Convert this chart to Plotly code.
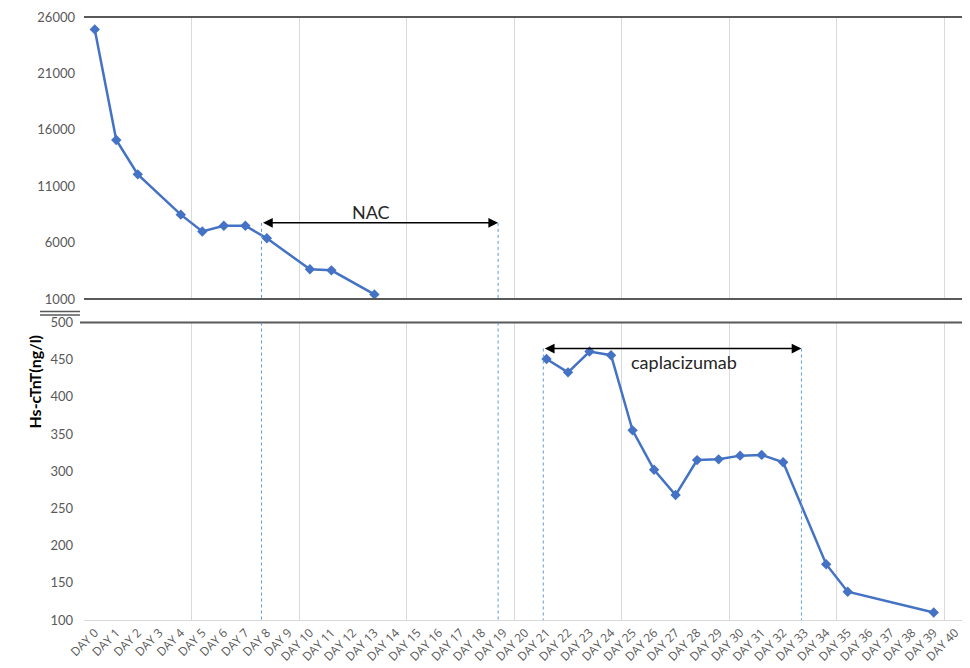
import plotly.graph_objects as go

# ---- data ----
top_days = [0, 1, 2, 4, 5, 6, 7, 8, 10, 11, 13]
top_values = [24900, 15100, 12050, 8480, 6990, 7490, 7490, 6380, 3640, 3540, 1410]

bottom_days = [21, 22, 23, 24, 25, 26, 27, 28, 29, 30, 31, 32, 34, 35, 39]
bottom_values = [451, 433, 461, 456, 355, 302, 268, 315, 316, 321, 322, 312, 175, 138, 110]

day_ticks = list(range(0, 41))
day_labels = [f"DAY {d}" for d in day_ticks]
top_yticks = [1000, 6000, 11000, 16000, 21000, 26000]
bottom_yticks = [100, 150, 200, 250, 300, 350, 400, 450, 500]

nac_start, nac_end, nac_level = 7.75, 18.75, 7750
cap_start, cap_end, cap_level = 20.85, 32.85, 465

# page body has an 8px margin, so the figure is drawn 8px smaller and coordinates offset
OFF = 8
W, H = 962, 660
def px(x):
    return (x - OFF) / W
def py(y):
    return 1 - (y - OFF) / H

BLUE = "#4472C4"
GRAY = "#595959"
LIGHT = "#D9D9D9"
FONT = "Lato"
TOP_Y = 17

fig = go.Figure()
fig.add_trace(go.Scatter(x=top_days, y=top_values, mode="lines+markers",
                         line=dict(color=BLUE, width=2.5),
                         marker=dict(symbol="diamond", size=8, color=BLUE),
                         xaxis="x", yaxis="y", showlegend=False, cliponaxis=False))
fig.add_trace(go.Scatter(x=bottom_days, y=bottom_values, mode="lines+markers",
                         line=dict(color=BLUE, width=2.5),
                         marker=dict(symbol="diamond", size=8, color=BLUE),
                         xaxis="x2", yaxis="y2", showlegend=False, cliponaxis=False))

xdom = [px(84), px(966)]
minor_grid = dict(tickvals=[d + 0.5 for d in range(4, 40, 5)], showgrid=True,
                  gridcolor=LIGHT, gridwidth=1, ticklen=0)

fig.update_layout(
    width=W, height=H, template="none",
    margin=dict(l=0, r=0, t=0, b=0),
    paper_bgcolor="white", plot_bgcolor="rgba(0,0,0,0)",
    font=dict(family=FONT, color=GRAY),
    xaxis=dict(domain=xdom, range=[-0.5, 40.5], anchor="y",
               tickmode="array", tickvals=day_ticks, showticklabels=False,
               showgrid=False, zeroline=False, showline=False, ticks="",
               minor=minor_grid, automargin=False),
    yaxis=dict(domain=[py(299), py(TOP_Y)], range=[1000, 26000], anchor="x",
               tickmode="array", tickvals=top_yticks,
               ticktext=[str(v) for v in top_yticks], showgrid=False,
               zeroline=False, showline=False, ticks="",
               tickfont=dict(size=13, color=GRAY, family=FONT),
               ticklabeloverflow="allow",
               ticklabelstandoff=8, automargin=False),
    xaxis2=dict(domain=xdom, range=[-0.5, 40.5], anchor="y2",
                tickmode="array", tickvals=day_ticks, ticktext=day_labels,
                tickangle=-45, tickfont=dict(size=12, color=GRAY, family="Open Sans"),
                ticklabeloverflow="allow",
                showgrid=False, zeroline=False, showline=True, linecolor=LIGHT,
                linewidth=1, ticks="", minor=minor_grid, automargin=False),
    yaxis2=dict(domain=[py(620), py(322.5)], range=[100, 500], anchor="x2",
                tickmode="array", tickvals=bottom_yticks,
                ticktext=[str(v) for v in bottom_yticks], showgrid=False,
                zeroline=False, showline=False, ticks="",
                tickfont=dict(size=13, color=GRAY, family=FONT),
                ticklabelstandoff=10, automargin=False),
)

shapes = []
# frames
shapes.append(dict(type="line", xref="paper", yref="paper", x0=px(84), x1=px(967), y0=py(TOP_Y), y1=py(TOP_Y), line=dict(color=GRAY, width=2)))
shapes.append(dict(type="line", xref="paper", yref="paper", x0=px(84), x1=px(967), y0=py(299), y1=py(299), line=dict(color=GRAY, width=2)))
shapes.append(dict(type="line", xref="paper", yref="paper", x0=px(966), x1=px(966), y0=py(TOP_Y), y1=py(299), line=dict(color=GRAY, width=2)))
shapes.append(dict(type="line", xref="paper", yref="paper", x0=px(80), x1=px(963), y0=py(322.5), y1=py(322.5), line=dict(color=GRAY, width=2)))
shapes.append(dict(type="line", xref="paper", yref="paper", x0=px(963), x1=px(963), y0=py(322.5), y1=py(620), line=dict(color=GRAY, width=2)))
# axis break marks
shapes.append(dict(type="line", xref="paper", yref="paper", x0=px(40), x1=px(80), y0=py(311.5), y1=py(311.5), line=dict(color=GRAY, width=1.5)))
shapes.append(dict(type="line", xref="paper", yref="paper", x0=px(40), x1=px(80), y0=py(315), y1=py(315), line=dict(color=GRAY, width=1.5)))
# dotted treatment markers
dot = dict(color="#5B9BD5", width=1, dash="dot")
for xv in (nac_start, nac_end):
    shapes.append(dict(type="line", xref="x", yref="y", x0=xv, x1=xv, y0=nac_level, y1=1000, line=dot))
    shapes.append(dict(type="line", xref="x2", yref="y2", x0=xv, x1=xv, y0=500, y1=100, line=dot))
for xv in (cap_start, cap_end):
    shapes.append(dict(type="line", xref="x2", yref="y2", x0=xv, x1=xv, y0=cap_level, y1=100, line=dot))
fig.update_layout(shapes=shapes)

# arrows
fig.add_annotation(x=nac_end, y=nac_level, ax=nac_start, ay=nac_level, xref="x", yref="y",
                   axref="x", ayref="y", text="", showarrow=True, arrowhead=2,
                   arrowside="end+start", arrowsize=1.3, arrowwidth=1.5, arrowcolor="black",
                   standoff=0, startstandoff=0)
fig.add_annotation(x=cap_end, y=cap_level, ax=cap_start, ay=cap_level, xref="x2", yref="y2",
                   axref="x2", ayref="y2", text="", showarrow=True, arrowhead=2,
                   arrowside="end+start", arrowsize=1.3, arrowwidth=1.5, arrowcolor="black",
                   standoff=0, startstandoff=0)
fig.add_annotation(x=12.85, y=8700, xref="x", yref="y", text="NAC", showarrow=False,
                   font=dict(size=18, color="#262626", family=FONT))
fig.add_annotation(x=27.4, y=447, xref="x2", yref="y2", text="caplacizumab", showarrow=False,
                   font=dict(size=18, color="#262626", family=FONT))
# y title
fig.add_annotation(x=px(22), y=py(382), xref="paper", yref="paper", text="<b>Hs-cTnT(ng/l)</b>",
                   textangle=-90, showarrow=False, font=dict(size=16, color="black", family=FONT))

fig.write_html("out.html")
